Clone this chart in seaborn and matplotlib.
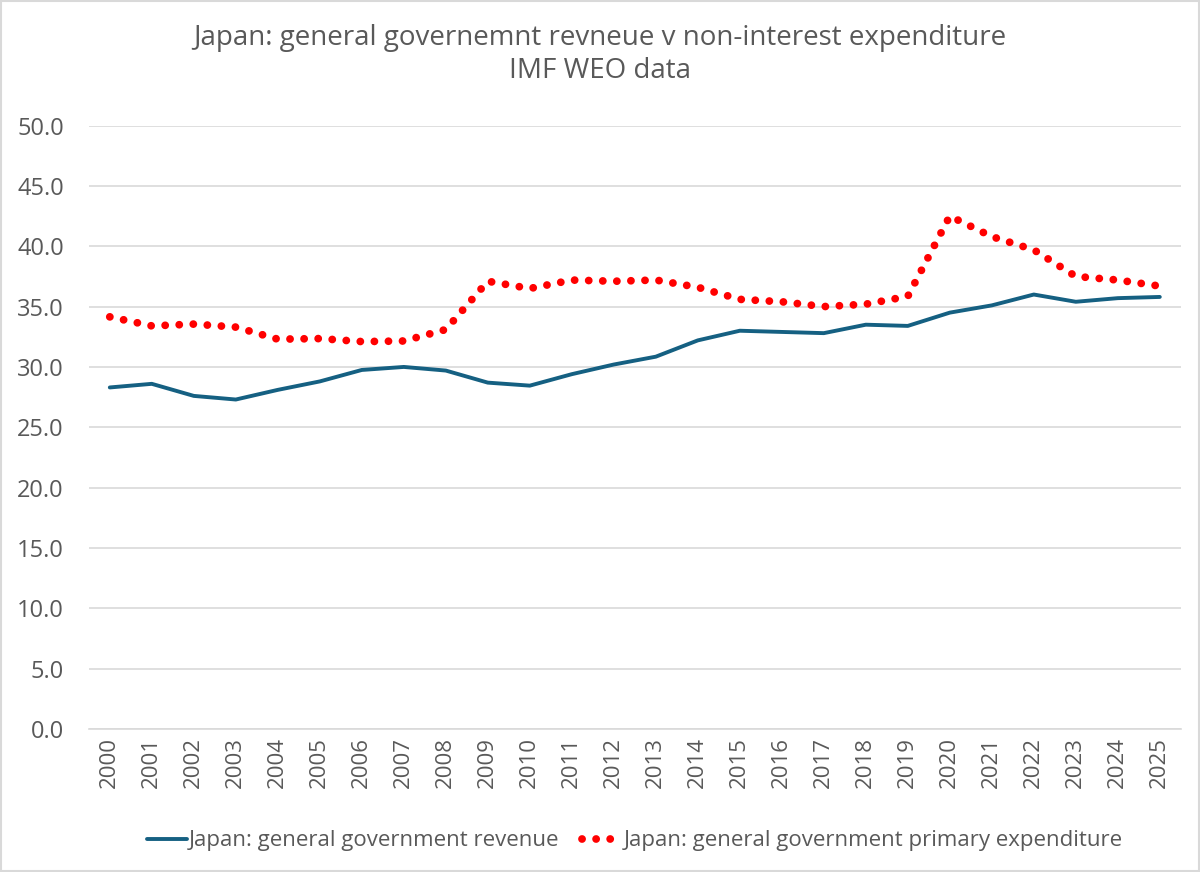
import matplotlib
matplotlib.use("Agg")
import matplotlib.pyplot as plt
import seaborn as sns
import pandas as pd
from matplotlib.patches import Rectangle

years = [str(y) for y in range(2000, 2026)]
revenue = [28.3, 28.6, 27.6, 27.3, 28.1, 28.8, 29.75, 30.0, 29.7, 28.7, 28.45, 29.4, 30.2,
           30.85, 32.2, 33.0, 32.9, 32.8, 33.5, 33.4, 34.5, 35.1, 36.0, 35.4, 35.7, 35.8]
expenditure = [34.15, 33.4, 33.55, 33.3, 32.3, 32.35, 32.1, 32.15, 33.1, 37.1, 36.5, 37.2, 37.1,
               37.2, 36.6, 35.6, 35.4, 35.0, 35.2, 35.85, 42.5, 40.8, 39.7, 37.5, 37.2, 36.7]
title = "Japan: general governemnt revneue v non-interest expenditure\nIMF WEO data"
label_rev = "Japan: general government revenue"
label_exp = "Japan: general government primary expenditure"

sns.set_theme(style="white")
plt.rcParams['font.family'] = ['Open Sans', 'DejaVu Sans']
txt = '#595959'

df = pd.DataFrame({"year": years, "rev": revenue, "exp": expenditure})
df["x"] = range(len(years))

fig = plt.figure(figsize=(12, 8.72), dpi=100)
ax = fig.add_axes([0.074, 0.164, 0.910, 0.692])

sns.lineplot(data=df, x="x", y="rev", ax=ax, color="#156082", lw=2.8, label=label_rev,
             solid_capstyle='round')
sns.lineplot(data=df, x="x", y="exp", ax=ax, color="#FF0000", lw=5.6, label=label_exp,
             linestyle=(0, (0.01, 1.8)), dash_capstyle='round')

ax.set_xlim(-0.5, len(years) - 0.5)
ax.set_ylim(0, 50)
ax.set_yticks(range(0, 51, 5))
ax.set_yticklabels([f"{v:.1f}" for v in range(0, 51, 5)], fontsize=17, color=txt)
ax.set_xticks(df["x"])
ax.set_xticklabels(years, rotation=90, fontsize=16, color=txt)
ax.tick_params(axis='y', length=0, pad=18)
ax.tick_params(axis='x', length=0, pad=6)
ax.yaxis.grid(True, color="#D9D9D9", lw=1.2)
ax.set_axisbelow(True)
for s in ["top", "right", "left"]:
    ax.spines[s].set_visible(False)
ax.spines["bottom"].set_color("#D9D9D9")
ax.spines["bottom"].set_linewidth(1.2)
ax.set_xlabel("")
ax.set_ylabel("")

fig.suptitle(title, y=0.972, fontsize=20, color=txt, linespacing=1.2)

leg = ax.legend(loc="upper center", bbox_to_anchor=(0.5, -0.135), ncol=2, frameon=False,
                fontsize=16, handlelength=1.8, columnspacing=1.0, handletextpad=0.1)
for t in leg.get_texts():
    t.set_color(txt)

fig.patches.append(Rectangle((0.001, 0.001), 0.998, 0.998, transform=fig.transFigure,
                             fill=False, edgecolor="#D9D9D9", lw=1.5))

fig.savefig("out.png", dpi=100)
